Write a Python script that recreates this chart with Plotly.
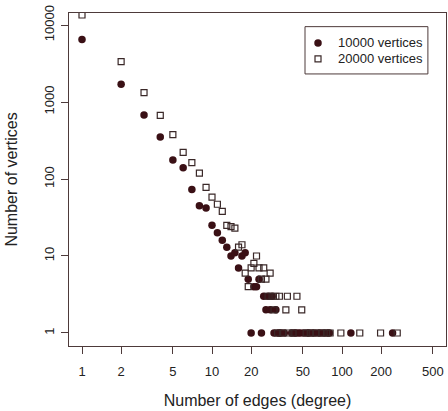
import plotly.graph_objects as go

# 10000 vertices (filled circles): degree -> number of vertices
deg_10k = [1, 2, 3, 4, 5, 6, 7, 8, 9, 10, 11, 12, 13, 14, 15, 16, 17, 18, 19,
           20, 21, 22, 23, 24, 25, 26, 27, 28, 29, 30, 31, 32, 33, 34, 36,
           41, 43, 44, 46, 48, 51, 54, 56, 59, 62, 66, 69, 73, 77, 80, 117, 245]
cnt_10k = [6500, 1700, 680, 350, 176, 140, 73, 45, 42, 25, 20, 16, 13, 10, 11, 7, 10, 11, 5,
           1, 4, 4, 5, 1, 3, 2, 3, 2, 3, 1, 2, 1, 1, 1, 1,
           1, 1, 1, 1, 1, 1, 1, 1, 1, 1, 1, 1, 1, 1, 1, 1, 1]

# 20000 vertices (open squares)
deg_20k = [1, 2, 3, 4, 5, 6, 7, 8, 9, 10, 11, 12, 13, 14, 15, 16, 17, 18, 19,
           20, 21, 22, 23, 24, 25, 26, 27, 28, 29, 30, 31, 32, 33, 35, 37, 38, 39,
           42, 45, 49, 53, 57, 63, 70, 76, 81, 98, 137, 198, 266]
cnt_20k = [13500, 3340, 1320, 672, 376, 222, 163, 119, 78, 58, 47, 38, 25, 24, 23, 13, 14, 6, 4,
           7, 8, 10, 7, 5, 7, 5, 3, 6, 3, 2, 3, 1, 3, 1, 2, 3, 1,
           1, 3, 2, 1, 1, 1, 1, 1, 1, 1, 1, 1, 1]

x_ticks = [1, 2, 5, 10, 20, 50, 100, 200, 500]
y_ticks = [1, 10, 100, 1000, 10000]
series_names = ["10000 vertices", "20000 vertices"]

axis_col = "#4d3a3a"
circle_col = "#3a1015"
square_col = "#3a2828"
font = dict(family="Liberation Sans, Arial, sans-serif", size=13, color="#222222")

fig = go.Figure()
fig.add_trace(go.Scatter(
    x=deg_10k, y=cnt_10k, mode="markers", name=series_names[0],
    marker=dict(symbol="circle", size=7.5, color=circle_col, line=dict(width=0)),
))
fig.add_trace(go.Scatter(
    x=deg_20k, y=cnt_20k, mode="markers", name=series_names[1],
    marker=dict(symbol="square-open", size=6, color=square_col, line=dict(width=1.2)),
))

# Legend drawn as a boxed key (R style) in paper coordinates
leg_x0, leg_x1, leg_y0, leg_y1 = 0.626, 0.952, 0.817, 0.959
mark_x = 0.6605
text_x = 0.708
row_y = [0.91, 0.862]
shapes = [
    dict(type="rect", xref="paper", yref="paper", x0=leg_x0, x1=leg_x1, y0=leg_y0, y1=leg_y1,
         line=dict(color=axis_col, width=1), fillcolor="rgba(0,0,0,0)", layer="above"),
    dict(type="circle", xref="paper", yref="paper", xsizemode="pixel", ysizemode="pixel",
         xanchor=mark_x, yanchor=row_y[0], x0=-3.75, x1=3.75, y0=-3.75, y1=3.75,
         fillcolor=circle_col, line=dict(width=0), layer="above"),
    dict(type="rect", xref="paper", yref="paper", xsizemode="pixel", ysizemode="pixel",
         xanchor=mark_x, yanchor=row_y[1], x0=-3, x1=3, y0=-3, y1=3,
         fillcolor="rgba(0,0,0,0)", line=dict(color=square_col, width=1.2), layer="above"),
]
annotations = [
    dict(text=series_names[i], xref="paper", yref="paper", x=text_x, y=row_y[i],
         xanchor="left", yanchor="middle", showarrow=False,
         font=dict(size=13, color="#222222"))
    for i in range(2)
]

fig.update_layout(
    width=448, height=411,
    margin=dict(l=69, r=2, t=13, b=65),
    paper_bgcolor="white", plot_bgcolor="white",
    font=font,
    showlegend=False,
    shapes=shapes,
    annotations=annotations,
)
fig.update_xaxes(
    type="log", range=[-0.1, 2.8],
    tickvals=x_ticks, ticktext=[str(v) for v in x_ticks],
    ticks="outside", ticklen=7, tickwidth=1, tickcolor=axis_col,
    showline=True, linecolor=axis_col, linewidth=1, mirror=True,
    showgrid=False, zeroline=False,
    title=dict(text="Number of edges (degree)", standoff=17),
    ticklabelstandoff=6, ticklabeloverflow="allow",
)
fig.update_yaxes(
    type="log", range=[-0.169, 4.156],
    tickvals=y_ticks, ticktext=[str(v) for v in y_ticks],
    tickangle=-90,
    ticks="outside", ticklen=7, tickwidth=1, tickcolor=axis_col,
    showline=True, linecolor=axis_col, linewidth=1, mirror=True,
    showgrid=False, zeroline=False,
    title=dict(text="Number of vertices", standoff=20),
    ticklabelstandoff=2, ticklabeloverflow="allow",
)

# Remove the default page margin so the 448x411 figure fills the window exactly
fig.write_html(
    "out.html",
    config={"displayModeBar": False},
    post_script="document.body.style.margin='0';document.body.style.overflow='hidden';",
)
